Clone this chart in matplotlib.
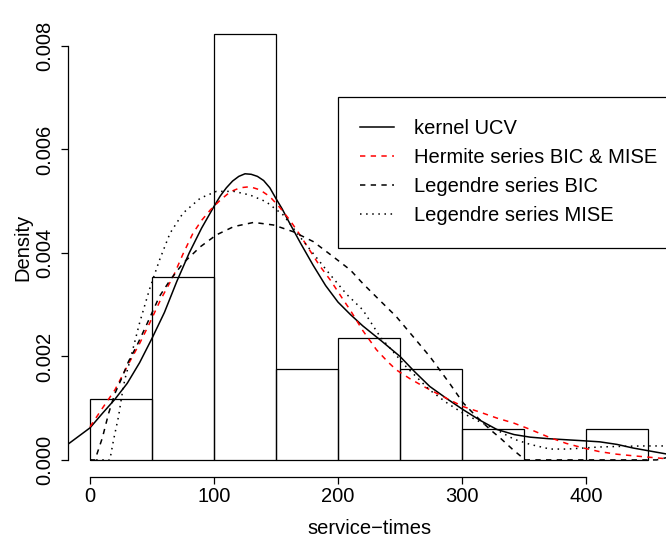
import numpy as np
import matplotlib
matplotlib.use("Agg")
import matplotlib.pyplot as plt

plt.rcParams['font.family'] = ['Liberation Sans', 'DejaVu Sans']

# histogram of service times (bin width 50), counts
bin_left = [0, 50, 100, 150, 200, 250, 300, 350, 400]
counts = [2, 6, 14, 3, 4, 3, 1, 0, 1]
n_obs = 34
bin_width = 50

# density estimates
kernel_x = [-18, 0, 10, 20, 30, 40, 50, 60, 70, 80, 90, 100, 105, 110, 115, 120,
            125, 130, 135, 140, 145, 150, 155, 160, 170, 180, 190, 200, 210, 220,
            235, 250, 262, 274, 288, 301, 315, 328, 342, 355, 370, 384, 398, 411,
            425, 438, 452, 466]
kernel_y = [0.00030, 0.00062, 0.00090, 0.00117, 0.00148, 0.00188, 0.00235, 0.00285,
            0.00345, 0.00400, 0.00448, 0.00490, 0.00510, 0.00526, 0.00539, 0.00548,
            0.00553, 0.00552, 0.00548, 0.00540, 0.00526, 0.00505, 0.00485, 0.00462,
            0.00418, 0.00376, 0.00337, 0.00305, 0.00281, 0.00259, 0.00230, 0.00200,
            0.00170, 0.00142, 0.00118, 0.00097, 0.00076, 0.00059, 0.00049, 0.00044,
            0.00041, 0.00039, 0.00037, 0.00035, 0.00030, 0.00023, 0.00017, 0.00011]

hermite_x = [0, 10, 20, 30, 40, 48, 57, 67, 75, 83, 90, 97, 105, 113, 121, 129,
             137, 145, 153, 161, 169, 177, 185, 194, 203, 210, 220, 231, 240, 247,
             258, 269, 285, 301, 315, 328, 342, 355, 370, 384, 398, 411, 425, 438,
             452, 466]
hermite_y = [0.00064, 0.00100, 0.00135, 0.00181, 0.00225, 0.00264, 0.00310, 0.00354,
             0.00398, 0.00438, 0.00463, 0.00483, 0.00502, 0.00518, 0.00526, 0.00528,
             0.00522, 0.00509, 0.00488, 0.00464, 0.00436, 0.00406, 0.00376, 0.00347,
             0.00314, 0.00289, 0.00250, 0.00213, 0.00190, 0.00174, 0.00157, 0.00142,
             0.00122, 0.00103, 0.00092, 0.00081, 0.00071, 0.00059, 0.00044, 0.00032,
             0.00023, 0.00016, 0.00011, 0.00008, 0.00005, 0.00002]

leg_bic_x = [0, 4, 10, 15, 20, 25, 31, 38, 45, 56, 65, 75, 89, 102, 116, 132, 148,
             164, 180, 196, 210, 220, 233, 247, 260, 274, 290, 301, 312, 323, 331,
             341, 351, 457, 466]
leg_bic_y = [0.0, 0.0, 0.00043, 0.00090, 0.00128, 0.00155, 0.00190, 0.00222, 0.00258,
             0.00316, 0.00349, 0.00380, 0.00412, 0.00435, 0.00451, 0.00459, 0.00454,
             0.00441, 0.00422, 0.00393, 0.00367, 0.00341, 0.00310, 0.00277, 0.00240,
             0.00200, 0.00148, 0.00110, 0.00083, 0.00058, 0.00042, 0.00020, 0.0, 0.0,
             0.00005]

leg_mise_x = [0, 16, 19, 23, 25.5, 28, 32, 40, 48, 56, 64.5, 75, 89, 102, 116, 129,
              142, 156, 169, 183, 193, 200, 207, 220, 234, 255, 274, 288, 301, 315,
              328, 342, 355, 371, 385, 398, 411, 425, 445, 466]
leg_mise_y = [0.0, 0.0, 0.00039, 0.00084, 0.00122, 0.00155, 0.00190, 0.00265, 0.00330,
              0.00386, 0.00438, 0.00477, 0.00506, 0.00519, 0.00519, 0.00512, 0.00499,
              0.00473, 0.00432, 0.00390, 0.00360, 0.00340, 0.00320, 0.00290, 0.00238,
              0.00180, 0.00135, 0.00110, 0.00090, 0.00073, 0.00058, 0.00040, 0.00030,
              0.00021, 0.00021, 0.00023, 0.00025, 0.00026, 0.00027, 0.00027]

xticks = [0, 100, 200, 300, 400]
yticks = [0.000, 0.002, 0.004, 0.006, 0.008]

fs = 14.5
fig = plt.figure(figsize=(6.66, 5.45), dpi=100)
ax = fig.add_axes([67.7 / 666, 68 / 545, 602.6 / 666, 460 / 545])

density = np.array(counts) / (n_obs * bin_width)
ax.bar(bin_left, density, width=bin_width, align='edge', fill=False,
       edgecolor='black', linewidth=0.9)

ax.plot(kernel_x, kernel_y, color='black', lw=1.1, label='kernel UCV')
ax.plot(hermite_x, hermite_y, color='red', lw=1.1, dashes=(3.5, 3.5),
        label='Hermite series BIC & MISE')
ax.plot(leg_bic_x, leg_bic_y, color='black', lw=1.1, dashes=(3.5, 3.5),
        label='Legendre series BIC')
ax.plot(leg_mise_x, leg_mise_y, color='black', lw=1.1, dashes=(1, 3),
        label='Legendre series MISE')

ax.set_xlim(-18, 468)
ax.set_ylim(-0.00033, 0.00856)

for s in ['top', 'right']:
    ax.spines[s].set_visible(False)
ax.spines['left'].set_bounds(0, 0.008)
ax.spines['bottom'].set_bounds(0, 400)
ax.spines['left'].set_linewidth(0.9)
ax.spines['bottom'].set_linewidth(0.9)

ax.set_xticks(xticks)
ax.set_xticklabels([str(t) for t in xticks])
ax.set_yticks(yticks)
ax.set_yticklabels(['%.3f' % t for t in yticks], rotation=90, va='center')
ax.tick_params(axis='both', direction='out', length=5, width=0.9, labelsize=fs)
ax.tick_params(axis='x', pad=2)
ax.tick_params(axis='y', pad=5)

ax.set_xlabel('service\u2212times', fontsize=fs, labelpad=9.5)
ax.set_ylabel('Density', fontsize=fs)
ax.yaxis.set_label_coords(-0.058, 0.5)

ax.legend(loc='upper left', bbox_to_anchor=(338 / 666, 1 - 97 / 545),
          bbox_transform=fig.transFigure, fontsize=fs, frameon=True,
          fancybox=False, edgecolor='black', framealpha=1, borderpad=1.1,
          labelspacing=0.5, handlelength=1.7, handletextpad=0.95,
          borderaxespad=0)
ax.get_legend().get_frame().set_linewidth(0.9)

fig.savefig('out.png', dpi=100)
